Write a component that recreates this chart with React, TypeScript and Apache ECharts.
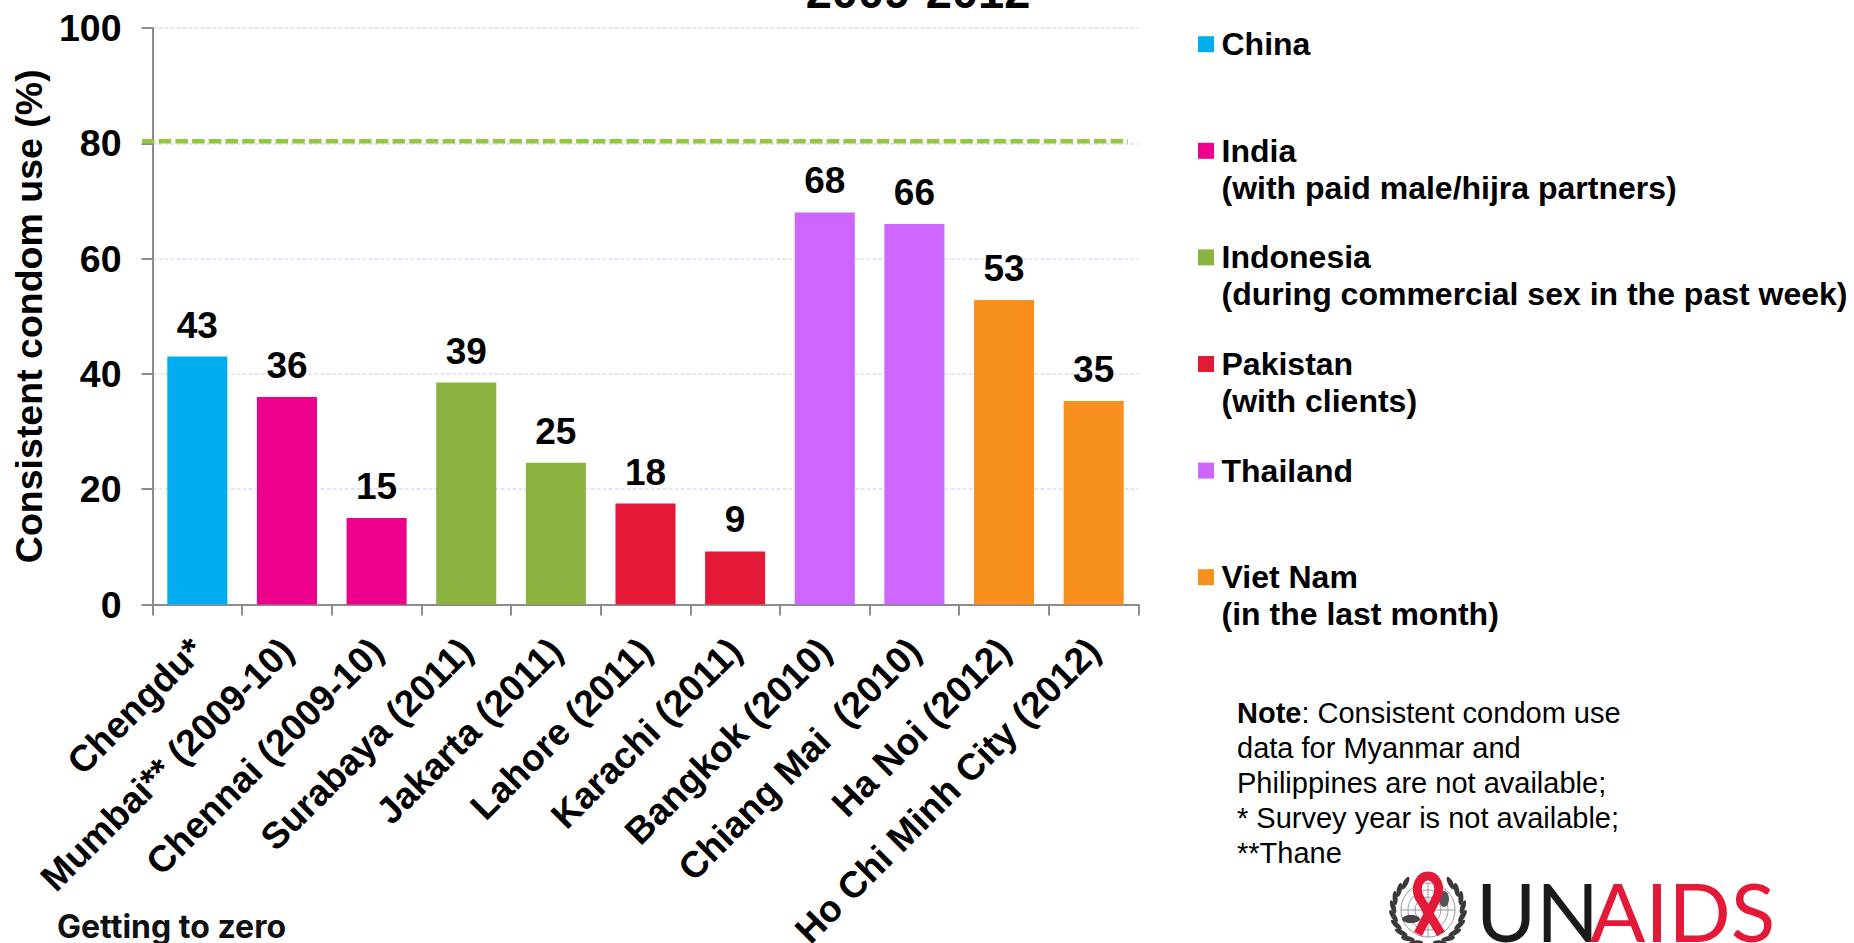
import React, { useEffect, useRef } from "react";
import * as echarts from "echarts";

const categories = [
  "Chengdu*", "Mumbai** (2009-10)", "Chennai (2009-10)", "Surabaya (2011)", "Jakarta (2011)",
  "Lahore (2011)", "Karachi (2011)", "Bangkok (2010)", "Chiang Mai  (2010)", "Ha Noi (2012)",
  "Ho Chi Minh City (2012)",
];
const values = [43, 36, 15, 38.5, 24.6, 17.5, 9.2, 68, 66, 52.8, 35.3];
const barGroups = [0, 1, 1, 2, 2, 3, 3, 4, 4, 5, 5];
const groupColors = ["#00AEEF", "#EC008C", "#8AB33F", "#E31937", "#CC66FF", "#F7901E"];
const legendLines = [
  ["China"],
  ["India", "(with paid male/hijra partners)"],
  ["Indonesia", "(during commercial sex in the past week)"],
  ["Pakistan", "(with clients)"],
  ["Thailand"],
  ["Viet Nam", "(in the last month)"],
];
const noteLines = [
  "Consistent condom use",
  "data for Myanmar and",
  "Philippines are not available;",
  "* Survey year is not available;",
  "**Thane",
];
const targetLevel = 80.35;
const FONT = '"Liberation Sans", Arial, sans-serif';

const ribbonPath = "M-10 29 L9 -8 C14 -20 7 -29 0 -29 C-7 -29 -14 -20 -9 -8 L13 29";

function emblem(): any[] {
  const cx = 1428, cy = 910;
  const out: any[] = [];
  [27, 20, 13, 6].forEach((r) =>
    out.push({ type: "circle", shape: { cx, cy, r }, style: { fill: "none", stroke: "#9a9a9a", lineWidth: 1 } })
  );
  out.push({ type: "line", shape: { x1: cx - 27, y1: cy, x2: cx + 27, y2: cy }, style: { stroke: "#9a9a9a", lineWidth: 1 } });
  out.push({ type: "line", shape: { x1: cx, y1: cy - 27, x2: cx, y2: cy + 27 }, style: { stroke: "#9a9a9a", lineWidth: 1 } });
  out.push({ type: "ellipse", shape: { cx: cx - 17, cy: cy + 9, rx: 9, ry: 4 }, style: { fill: "#444" } });
  out.push({ type: "ellipse", shape: { cx: cx + 16, cy: cy - 11, rx: 5, ry: 8 }, style: { fill: "#555" } });
  for (let side = -1; side <= 1; side += 2) {
    for (let i = 0; i < 9; i++) {
      const a = (-50 + i * 15) * (Math.PI / 180);
      const x = cx + side * 35 * Math.cos(a);
      const y = cy + 35 * Math.sin(a);
      out.push({
        type: "ellipse",
        shape: { cx: 0, cy: 0, rx: 2.5, ry: 7 },
        x,
        y,
        rotation: -side * a - side * 0.4,
        style: { fill: "#3a3a3a" },
      });
    }
  }
  out.push({
    type: "ribbonShape",
    x: cx,
    y: cy - 5,
    style: { fill: "none", stroke: "#E31937", lineWidth: 9 },
  });
  return out;
}

export default function App() {
  const ref = useRef<HTMLDivElement>(null);
  useEffect(() => {
    echarts.graphic.registerShape("ribbonShape", echarts.graphic.extendPath(ribbonPath, {}) as any);
    const chart = echarts.init(ref.current!, undefined, { renderer: "svg" });
    const graphics: any[] = [
      { type: "text", x: 918, y: 15, style: { text: "2009-2012", font: `bold 47px ${FONT}`, fill: "#000", align: "center", verticalAlign: "bottom" } },
      { type: "text", x: 57, y: 926, style: { text: "Getting to zero", font: `bold 32px Inter, Lato, ${FONT}`, fill: "#111", verticalAlign: "middle" } },
      { type: "text", x: 1476, y: 910, style: { text: "UN", font: `400 82px Lato, ${FONT}`, fill: "#1a1a1a", verticalAlign: "middle" } },
      { type: "text", x: 1590, y: 910, style: { text: "AIDS", font: `400 82px Lato, ${FONT}`, fill: "#E31937", verticalAlign: "middle" } },
      ...emblem(),
    ];
    legendLines.forEach((lines, i) => {
      const y = 44.2 + i * 106.6;
      graphics.push({ type: "rect", shape: { x: 1198, y: y - 8, width: 16, height: 16 }, style: { fill: groupColors[i] } });
      lines.forEach((t, j) =>
        graphics.push({ type: "text", x: 1221.5, y: y + j * 37, style: { text: t, font: `bold 32px ${FONT}`, fill: "#000", verticalAlign: "middle" } })
      );
    });
    noteLines.forEach((t, i) => {
      const y = 712.5 + i * 35.2;
      if (i === 0) {
        graphics.push({
          type: "text", x: 1237, y,
          style: {
            text: "{b|Note}{r|: " + t + "}",
            verticalAlign: "middle",
            rich: {
              b: { font: `bold 29px ${FONT}`, fill: "#000" },
              r: { font: `29px ${FONT}`, fill: "#000" },
            },
          },
        });
      } else {
        graphics.push({ type: "text", x: 1237, y, style: { text: t, font: `29px ${FONT}`, fill: "#000", verticalAlign: "middle" } });
      }
    });

    chart.setOption({
      animation: false,
      backgroundColor: "#fff",
      grid: { left: 152.5, right: 1854 - 1138.5, top: 28, bottom: 943 - 604.5, containLabel: false, outerBoundsMode: "none" },
      xAxis: {
        type: "category",
        data: categories,
        axisLine: { lineStyle: { color: "#8c8c8c", width: 2 } },
        axisTick: { show: true, alignWithLabel: false, length: 11, lineStyle: { color: "#8c8c8c", width: 2 } },
        axisLabel: { interval: 0, rotate: 45, margin: 40, color: "#000", fontFamily: FONT, fontWeight: "bold", fontSize: 37 },
        splitLine: { show: false },
      },
      yAxis: {
        type: "value",
        min: 0,
        max: 100,
        interval: 20,
        name: "Consistent condom use (%)",
        nameLocation: "middle",
        nameRotate: 90,
        nameGap: 105,
        nameTextStyle: { color: "#000", fontFamily: FONT, fontWeight: "bold", fontSize: 37.5 },
        axisLine: { show: true, lineStyle: { color: "#8c8c8c", width: 2 } },
        axisTick: { show: true, length: 11, lineStyle: { color: "#8c8c8c", width: 2 } },
        axisLabel: { margin: 31, color: "#000", fontFamily: FONT, fontWeight: "bold", fontSize: 37.5 },
        splitLine: { show: true, lineStyle: { color: "#E2DAF8", width: 1.5, type: [4, 2] } },
      },
      series: [
        {
          type: "bar",
          barWidth: "67%",
          data: values.map((v, i) => ({ value: v, itemStyle: { color: groupColors[barGroups[i]] } })),
          label: {
            show: true,
            position: "top",
            distance: 13,
            formatter: (p: any) => String(Math.round(p.value)),
            color: "#000",
            fontFamily: FONT,
            fontWeight: "bold",
            fontSize: 37,
          },
        },
        {
          type: "custom",
          silent: true,
          z: 5,
          data: [[0, targetLevel]],
          renderItem: (_: any, api: any) => {
            const p = api.coord([0, api.value(1)]);
            const band = api.size([1, 0])[0];
            const left = p[0] - band / 2;
            return {
              type: "line",
              shape: { x1: left - 10.5, y1: p[1], x2: left + band * 11 - 10.5, y2: p[1] },
              style: { stroke: "#92C83E", lineWidth: 4.5, lineDash: [12.5, 4.2] },
            };
          },
        },
      ],
      graphic: graphics,
    });
    return () => chart.dispose();
  }, []);
  return <div ref={ref} style={{ position: "absolute", left: 0, top: 0, width: 1854, height: 943 }} />;
}
